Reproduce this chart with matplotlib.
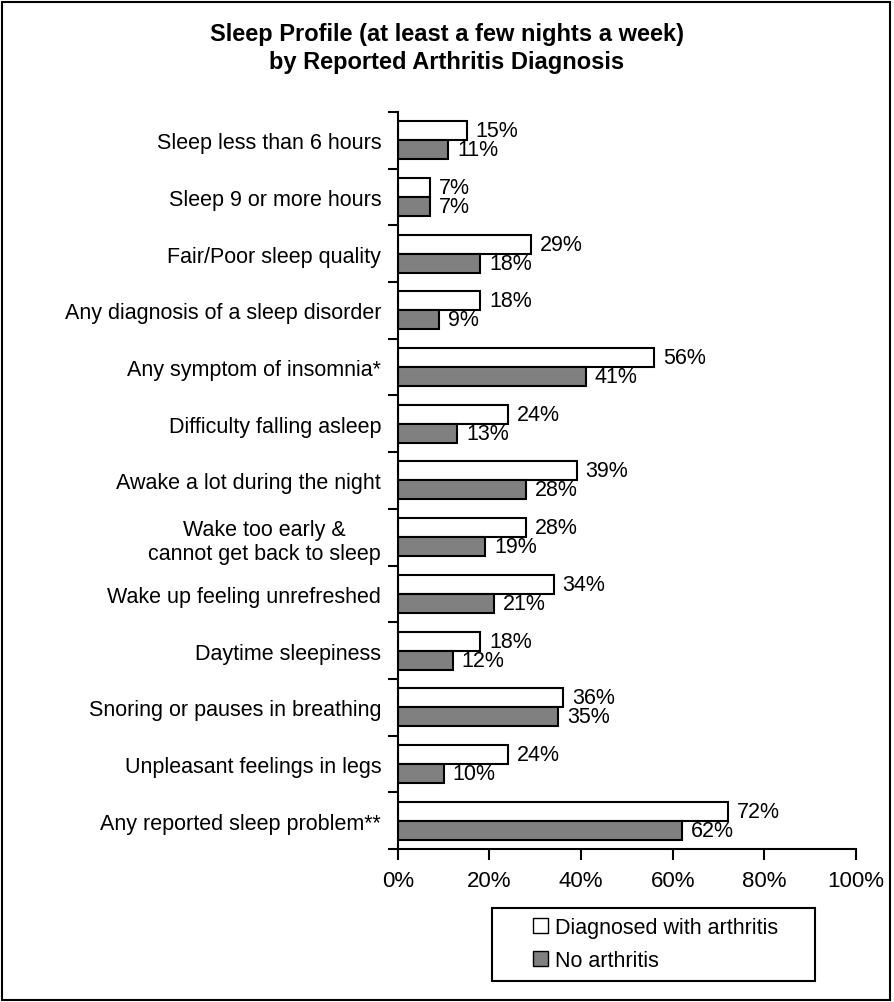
import matplotlib.pyplot as plt
import matplotlib.patches as mpatches
from matplotlib.legend_handler import HandlerPatch
import numpy as np

plt.rcParams.update({
    'font.family': ['Liberation Sans', 'DejaVu Sans'],
    'font.size': 15.5,
})

categories = [
    "Sleep less than 6 hours",
    "Sleep 9 or more hours",
    "Fair/Poor sleep quality",
    "Any diagnosis of a sleep disorder",
    "Any symptom of insomnia*",
    "Difficulty falling asleep",
    "Awake a lot during the night",
    "Wake too early &\ncannot get back to sleep",
    "Wake up feeling unrefreshed",
    "Daytime sleepiness",
    "Snoring or pauses in breathing",
    "Unpleasant feelings in legs",
    "Any reported sleep problem**",
]
arthritis = [15, 7, 29, 18, 56, 24, 39, 28, 34, 18, 36, 24, 72]
no_arthritis = [11, 7, 18, 9, 41, 13, 28, 19, 21, 12, 35, 10, 62]
series_labels = ["Diagnosed with arthritis", "No arthritis"]
x_ticks = [0, 20, 40, 60, 80, 100]

fig = plt.figure(figsize=(8.94, 10.03), dpi=100)
ax = fig.add_axes([0.445, 0.1525, 0.5125, 0.7349])

n = len(categories)
y = np.arange(n)
h = 0.335

ax.barh(y - h / 2, arthritis, height=h, color='white', edgecolor='black', linewidth=1.5)
ax.barh(y + h / 2, no_arthritis, height=h, color='#808080', edgecolor='black', linewidth=1.5)

for i in range(n):
    ax.annotate(f"{arthritis[i]}%", (arthritis[i], y[i] - h / 2), xytext=(9, 0),
                textcoords='offset pixels', va='center', ha='left', fontsize=15.5)
    ax.annotate(f"{no_arthritis[i]}%", (no_arthritis[i], y[i] + h / 2), xytext=(9, 0),
                textcoords='offset pixels', va='center', ha='left', fontsize=15.5)

ax.set_ylim(n - 0.5, -0.5)
ax.set_xlim(0, 100)
ax.set_xticks(x_ticks)
ax.set_xticklabels([f"{t}%" for t in x_ticks], fontsize=16)
ax.set_yticks(y)
ax.set_yticklabels(categories, multialignment='center')
ax.set_yticks(np.arange(n + 1) - 0.5, minor=True)
ax.tick_params(axis='y', which='major', length=0, pad=12)
ax.tick_params(axis='y', which='minor', length=7, width=1.5, direction='out')
ax.tick_params(axis='x', length=8, width=1.5, direction='out', pad=7)
for s in ['top', 'right']:
    ax.spines[s].set_visible(False)
for s in ['left', 'bottom']:
    ax.spines[s].set_linewidth(1.5)

fig.text(0.5, 0.977, "Sleep Profile (at least a few nights a week)\nby Reported Arthritis Diagnosis",
         ha='center', va='top', fontsize=17, fontweight='bold', linespacing=1.3)


# square legend key sitting at the right end of a wider handle box
def square_key(legend, orig_handle, xdescent, ydescent, width, height, fontsize):
    return mpatches.Rectangle((width - height - xdescent, -ydescent), height, height)


handles = [mpatches.Patch(facecolor='white', edgecolor='black', label=series_labels[0]),
           mpatches.Patch(facecolor='#808080', edgecolor='black', label=series_labels[1])]
leg = fig.legend(handles=handles, loc='lower left',
                 bbox_to_anchor=(492 / 894, 21 / 1003, 323 / 894, 0.07), mode='expand',
                 fancybox=False, edgecolor='black', framealpha=1, fontsize=15.5,
                 handlelength=2.15, handleheight=0.7, handletextpad=0.33,
                 borderpad=0.45, labelspacing=0.55, borderaxespad=0,
                 handler_map={mpatches.Patch: HandlerPatch(patch_func=square_key)})
leg.get_frame().set_linewidth(1.5)

fig.patches.append(mpatches.Rectangle((0.002, 0.002), 0.994, 0.995, transform=fig.transFigure,
                                      fill=False, edgecolor='black', linewidth=1.5))

fig.savefig("out.png", dpi=100)
